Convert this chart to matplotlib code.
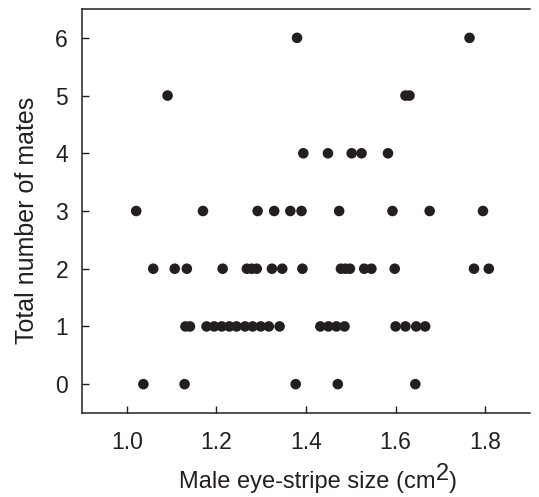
import matplotlib
matplotlib.use('Agg')
import matplotlib.pyplot as plt

plt.rcParams['font.family'] = ['Liberation Sans', 'DejaVu Sans']

# eye-stripe size (cm2) for males, grouped by number of mates
x0 = [1.037, 1.129, 1.377, 1.471, 1.644]
x1 = [1.131, 1.141, 1.178, 1.195, 1.212, 1.229, 1.245, 1.264, 1.281, 1.299,
      1.317, 1.341, 1.432, 1.450, 1.468, 1.486, 1.600, 1.622, 1.646, 1.666]
x2 = [1.059, 1.107, 1.134, 1.214, 1.268, 1.279, 1.290, 1.324, 1.347, 1.392,
      1.478, 1.488, 1.498, 1.530, 1.546, 1.598, 1.775, 1.808]
x3 = [1.021, 1.170, 1.292, 1.329, 1.365, 1.390, 1.474, 1.593, 1.676, 1.795]
x4 = [1.394, 1.449, 1.502, 1.524, 1.583]
x5 = [1.091, 1.622, 1.631]
x6 = [1.380, 1.765]

groups = [x0, x1, x2, x3, x4, x5, x6]
xs = []
ys = []
for n, g in enumerate(groups):
    xs += g
    ys += [n] * len(g)

col = '#231f20'
W, H = 539, 497
fig = plt.figure(figsize=(W / 100, H / 100), dpi=100)
ax = fig.add_axes([82 / W, 1 - 413 / H, 448 / W, 404 / H])
ax.scatter(xs, ys, s=58, color=col, edgecolors='none', zorder=3)

ax.set_xlim(0.9, 1.9)
ax.set_ylim(-0.5, 6.5)
ax.set_xticks([1.0, 1.2, 1.4, 1.6, 1.8])
ax.set_yticks(range(7))
ax.tick_params(direction='in', length=5, width=1, color=col,
               labelsize=16.5, labelcolor=col)
ax.tick_params(axis='x', pad=13)
ax.tick_params(axis='y', pad=10)
ax.spines['right'].set_visible(False)
for s in ax.spines.values():
    s.set_linewidth(1.1)
    s.set_color(col)

ax.set_ylabel('Total number of mates', fontsize=18, color=col)
ax.yaxis.set_label_coords(-0.095, 0.478)

# x label with a full-size raised "2", built from three pieces
fs = 17
parts = [('Male eye-stripe size (cm', 0), ('2', 8), (')', 0)]
fig.canvas.draw()
r = fig.canvas.get_renderer()
texts = []
for s, dy in parts:
    t = fig.text(0, 0, s, fontsize=fs, color=col, va='baseline')
    texts.append((t, dy))
widths = [t.get_window_extent(r).width for t, _ in texts]
x = 318 - sum(widths) / 2
base = 9
for (t, dy), w in zip(texts, widths):
    t.set_position((x / W, (base + dy) / H))
    x += w

fig.savefig('out.png', dpi=100)
